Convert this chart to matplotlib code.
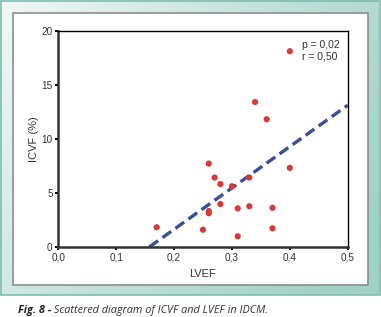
import numpy as np
import matplotlib
matplotlib.use("Agg")
import matplotlib.pyplot as plt
from matplotlib.patches import Rectangle
from matplotlib.colors import LinearSegmentedColormap

lvef = [0.40, 0.34, 0.36, 0.26, 0.27, 0.28, 0.30, 0.33, 0.40, 0.28,
        0.26, 0.26, 0.31, 0.33, 0.37, 0.17, 0.25, 0.37, 0.31]
icvf = [18.1, 13.4, 11.8, 7.7, 6.4, 5.8, 5.6, 6.4, 7.3, 3.95,
        3.3, 3.1, 3.55, 3.75, 3.6, 1.8, 1.57, 1.7, 0.96]
fit_slope = 38.3
fit_intercept = -6.05
xticks = [0.0, 0.1, 0.2, 0.3, 0.4, 0.5]
xticklabels = ["0,0", "0,1", "0,2", "0,3", "0,4", "0,5"]
yticks = [0, 5, 10, 15, 20]
stats_text = "p = 0,02\nr = 0,50"
caption_bold = "Fig. 8 -"
caption_rest = " Scattered diagram of ICVF and LVEF in IDCM."

W, H = 381, 317
fig = plt.figure(figsize=(W / 100, H / 100), dpi=100)
fig.patch.set_facecolor("white")

# teal gradient panel
bg = fig.add_axes([0, 0, 1, 1], zorder=-10)
bg.set_xlim(0, W)
bg.set_ylim(H, 0)
bg.axis("off")
gx, gy = np.meshgrid(np.linspace(0, 1, 200), np.linspace(0, 1, 200))
g = np.clip(0.75 * gx + 0.35 * gy, 0, 1)
cmap = LinearSegmentedColormap.from_list("teal", ["#f0f8f6", "#c4e2db", "#a2d1c6"])
bg.imshow(g, cmap=cmap, extent=(0, 380, 295, 0), aspect="auto", interpolation="bilinear")
bg.add_patch(Rectangle((0.5, 0.5), 379.5, 294.5, fill=False, ec="#7dbdb0", lw=1.2))
bg.add_patch(Rectangle((13.3, 13.3), 354.7, 271.7, fc="white", ec="#8a8f8e", lw=1.2))

# caption
t1 = bg.text(18, 310, caption_bold, fontsize=7.8, style="italic", weight="bold",
             family="Open Sans", color="#222222", va="center", ha="left")
fig.canvas.draw()
r = fig.canvas.get_renderer()
bb = t1.get_window_extent(renderer=r)
x2 = bb.x1
bg.text(x2, H - 310, caption_rest, fontsize=7.8, style="italic",
        family="Open Sans", color="#333333", va="center", ha="left",
        transform=None)

ax = fig.add_axes([58.3 / W, 1 - 246.7 / H, (347.7 - 58.3) / W, (246.7 - 30.7) / H])
ax.set_facecolor("white")
ax.set_xlim(0, 0.5)
ax.set_ylim(0, 20)

xs = np.linspace(0, 0.5, 200)
ax.plot(xs, fit_intercept + fit_slope * xs, color="#3b4f98", lw=2.4,
        dashes=(3.2, 1.6), zorder=2)
ax.scatter(lvef, icvf, s=20, color="#d83a3a", edgecolors="none", zorder=3)

ax.set_xticks(xticks)
ax.set_xticklabels(xticklabels)
ax.set_yticks(yticks)
for lab in ax.get_xticklabels() + ax.get_yticklabels():
    lab.set_family("Liberation Sans")
    lab.set_fontsize(7.2)
    lab.set_color("#333333")
ax.tick_params(direction="out", length=2, width=1.4, color="black", pad=2)

for s in ("left", "bottom"):
    ax.spines[s].set_linewidth(1.8)
    ax.spines[s].set_color("#333333")
for s in ("top", "right"):
    ax.spines[s].set_linewidth(1.0)
    ax.spines[s].set_color("black")

ax.set_xlabel("LVEF", family="Liberation Sans", fontsize=8, color="#333333", labelpad=5)
ax.set_ylabel("ICVF (%)", family="Liberation Sans", fontsize=8, color="#333333", labelpad=2)

ax.text(0.8425, 0.955, stats_text, transform=ax.transAxes, ha="left", va="top",
        family="Liberation Sans", fontsize=7.5, color="#333333", linespacing=1.1)

fig.savefig("out.png", dpi=100)
